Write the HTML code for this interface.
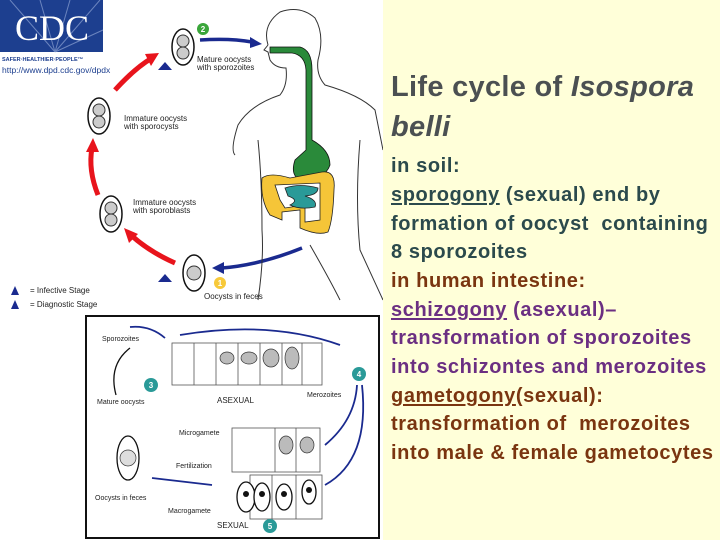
<!DOCTYPE html>
<html><head><meta charset="utf-8"><style>
html,body{margin:0;padding:0;width:720px;height:540px;overflow:hidden;background:#fff}
#L{position:absolute;left:0;top:0;width:383px;height:540px;background:#fff}
#R{position:absolute;left:383px;top:0;width:337px;height:540px;background:#ffffd9}
.t{position:absolute;left:8px;font-family:"Liberation Sans",sans-serif;font-weight:bold;white-space:nowrap}
.h{font-size:29px;color:#4b5052;letter-spacing:0.3px}
.b{font-size:20px;letter-spacing:0.6px}
.g{color:#2b4a4c}.r{color:#7a3510}.p{color:#6b2f82}
u{text-underline-offset:2px}
</style></head><body>
<div id="L">
<svg width="383" height="540" viewBox="0 0 383 540" font-family="Liberation Sans,sans-serif">
<rect x="0" y="0" width="103" height="52" fill="#1d3f8f"/>
<g stroke="#9fb3de" stroke-width="1" opacity="0.6"><line x1="55" y1="52" x2="10" y2="0"/><line x1="55" y1="52" x2="40" y2="0"/><line x1="55" y1="52" x2="70" y2="0"/><line x1="55" y1="52" x2="100" y2="0"/><line x1="55" y1="52" x2="103" y2="30"/></g>
<text x="52" y="40" text-anchor="middle" font-family="Liberation Serif,serif" font-size="36" fill="#fff">CDC</text>
<text x="2" y="61" font-size="5.5" font-weight="bold" fill="#1d3f8f">SAFER·HEALTHIER·PEOPLE™</text>
<text x="2" y="73" font-size="8.5" fill="#1d3f8f">http://www.dpd.cdc.gov/dpdx</text>
<g fill="none" stroke="#e8141c" stroke-width="5">
<path d="M115 90 Q135 68 152 58"/><path d="M98 195 Q88 170 92 148"/><path d="M175 263 Q150 252 132 236"/>
</g>
<g fill="#e8141c"><polygon points="159,53 145,54 151,66"/><polygon points="93,138 86,152 99,152"/><polygon points="124,228 129,243 138,234"/></g>
<g fill="none" stroke="#1a2a8f" stroke-width="3.5"><path d="M200 40 Q230 38 252 42"/><path d="M302 248 Q260 265 222 268"/></g>
<g fill="#1a2a8f"><polygon points="262,44 250,37 250,48"/><polygon points="212,268 224,262 224,274"/></g>
<g fill="#fff" stroke="#111" stroke-width="1.5">
<ellipse cx="183" cy="47" rx="11" ry="18"/><ellipse cx="99" cy="116" rx="11" ry="18"/><ellipse cx="111" cy="214" rx="11" ry="18"/><ellipse cx="194" cy="273" rx="11" ry="18"/>
</g>
<g fill="#ccc" stroke="#333" stroke-width="1"><circle cx="183" cy="41" r="6"/><circle cx="183" cy="53" r="6"/><circle cx="99" cy="110" r="6"/><circle cx="99" cy="122" r="6"/><circle cx="111" cy="208" r="6"/><circle cx="111" cy="220" r="6"/><circle cx="194" cy="273" r="7"/></g>
<circle cx="203" cy="29" r="6" fill="#3aa63a"/><text x="203" y="32" font-size="8" fill="#fff" text-anchor="middle" font-weight="bold">2</text>
<circle cx="220" cy="283" r="6" fill="#f7c93a"/><text x="220" y="286" font-size="8" fill="#fff" text-anchor="middle" font-weight="bold">1</text>
<polygon points="165,70 158,62 172,62" fill="#1a2a8f" transform="rotate(180 165 66)"/>
<polygon points="165,282 158,274 172,274" fill="#1a2a8f" transform="rotate(180 165 278)"/>
<g font-size="8" fill="#222">
<text x="197" y="62">Mature oocysts</text><text x="197" y="70">with sporozoites</text>
<text x="124" y="121">Immature oocysts</text><text x="124" y="129">with sporocysts</text>
<text x="133" y="205">Immature oocysts</text><text x="133" y="213">with sporoblasts</text>
<text x="204" y="299">Oocysts in feces</text>
<text x="30" y="293">= Infective Stage</text><text x="30" y="307">= Diagnostic Stage</text>
</g>
<polygon points="13,295 5,295 9,286" fill="#1a2a8f" transform="translate(6 0)"/>
<polygon points="13,309 5,309 9,300" fill="#1a2a8f" transform="translate(6 0)"/>
<g fill="none" stroke="#333" stroke-width="1">
<path d="M268 45 Q262 25 280 12 Q300 5 315 18 Q325 35 318 60 Q316 75 325 85 Q360 95 375 110 L383 150"/>
<path d="M268 45 L264 50 L268 52 L270 60 Q275 68 286 68 Q288 85 280 95 Q250 105 238 125 Q230 150 235 155"/>
<path d="M258 140 Q262 180 262 230 Q264 260 258 300"/><path d="M360 140 Q355 200 360 250 L383 300"/>
<path d="M310 245 Q330 280 340 300"/>
</g>
<path d="M270 47 L300 47 Q312 50 312 70 L312 140 Q330 150 330 165 Q325 180 300 180 Q290 175 295 160 L306 150 L306 70 Q305 55 292 53 L270 53 Z" fill="#2a8a3a" stroke="#111" stroke-width="0.8"/>
<path d="M262 178 Q270 172 290 178 L322 172 Q336 170 334 190 Q333 220 328 232 Q318 236 300 228 L300 210 L282 212 L282 220 L270 215 Q260 200 262 178Z M275 185 L320 183 L320 220 L305 222 L305 205 L285 208 L280 200Z" fill="#f5c538" fill-rule="evenodd" stroke="#222" stroke-width="0.8"/>
<path d="M285 188 Q300 183 318 188 Q318 195 305 196 Q318 200 315 207 Q300 210 290 205 Q300 200 288 196Z" fill="#2a9a98" stroke="#222" stroke-width="0.8"/>
<rect x="86" y="316" width="293" height="222" fill="#fff" stroke="#111" stroke-width="2"/>
<g fill="#fff" stroke="#555" stroke-width="0.8">
<rect x="172" y="343" width="150" height="42"/><rect x="232" y="428" width="88" height="44"/><rect x="250" y="475" width="72" height="44"/>
</g>
<g stroke="#555" stroke-width="0.8"><line x1="194" y1="343" x2="194" y2="385"/><line x1="216" y1="343" x2="216" y2="385"/><line x1="238" y1="343" x2="238" y2="385"/><line x1="260" y1="343" x2="260" y2="385"/><line x1="282" y1="343" x2="282" y2="385"/><line x1="302" y1="343" x2="302" y2="385"/><line x1="275" y1="428" x2="275" y2="472"/><line x1="296" y1="428" x2="296" y2="472"/><line x1="272" y1="475" x2="272" y2="519"/><line x1="296" y1="475" x2="296" y2="519"/></g>
<g fill="#bbb" stroke="#333" stroke-width="0.7"><ellipse cx="227" cy="358" rx="7" ry="6"/><ellipse cx="249" cy="358" rx="8" ry="6"/><ellipse cx="271" cy="358" rx="8" ry="9"/><ellipse cx="292" cy="358" rx="7" ry="11"/><ellipse cx="286" cy="445" rx="7" ry="9"/><ellipse cx="307" cy="445" rx="7" ry="8"/></g>
<g fill="#fff" stroke="#111" stroke-width="1.3"><ellipse cx="246" cy="497" rx="9" ry="15"/><ellipse cx="262" cy="497" rx="8" ry="14"/><ellipse cx="284" cy="497" rx="8" ry="13"/><ellipse cx="309" cy="492" rx="7" ry="12"/>
<ellipse cx="128" cy="458" rx="11" ry="22"/><path d="M130 348 Q108 365 116 395"/></g>
<g fill="#111"><circle cx="246" cy="494" r="3"/><circle cx="262" cy="494" r="3"/><circle cx="284" cy="494" r="3"/><circle cx="309" cy="490" r="3"/></g>
<circle cx="128" cy="458" r="8" fill="#ddd" stroke="#333" stroke-width="0.7"/>
<g fill="none" stroke="#1a2a8f" stroke-width="1.8"><path d="M340 345 Q270 320 180 335"/><path d="M130 327 Q150 325 165 338"/><path d="M357 385 Q355 420 325 445"/><path d="M362 385 Q370 460 325 485"/><path d="M212 485 L152 478"/></g>
<circle cx="359" cy="374" r="7" fill="#2a9a98"/><text x="359" y="377" font-size="8" fill="#fff" text-anchor="middle" font-weight="bold">4</text>
<circle cx="151" cy="385" r="7" fill="#2a9a98"/><text x="151" y="388" font-size="8" fill="#fff" text-anchor="middle" font-weight="bold">3</text>
<circle cx="270" cy="526" r="7" fill="#2a9a98"/><text x="270" y="529" font-size="8" fill="#fff" text-anchor="middle" font-weight="bold">5</text>
<g font-size="7" fill="#222">
<text x="102" y="341">Sporozoites</text><text x="97" y="404">Mature oocysts</text><text x="217" y="403" font-size="8">ASEXUAL</text><text x="307" y="397">Merozoites</text>
<text x="179" y="435">Microgamete</text><text x="176" y="468">Fertilization</text><text x="95" y="500">Oocysts in feces</text><text x="168" y="513">Macrogamete</text><text x="217" y="528" font-size="8">SEXUAL</text>
</g>
</svg>
</div>
<div id="R">
<div class="t h" style="top:71px">Life cycle of <i>Isospora</i></div>
<div class="t h" style="top:111px"><i>belli</i></div>
<div class="t b g" style="top:155px">in soil:</div>
<div class="t b g" style="top:184px"><u>sporogony</u> (sexual) end by</div>
<div class="t b g" style="top:213px">formation of oocyst&nbsp; containing</div>
<div class="t b g" style="top:241px">8 sporozoites</div>
<div class="t b r" style="top:270px">in human intestine:</div>
<div class="t b p" style="top:299px"><u>schizogony</u> (asexual)–</div>
<div class="t b p" style="top:327px">transformation of sporozoites</div>
<div class="t b p" style="top:356px">into schizontes and merozoites</div>
<div class="t b r" style="top:385px"><u>gametogony</u>(sexual):</div>
<div class="t b r" style="top:413px">transformation of&nbsp; merozoites</div>
<div class="t b r" style="top:442px">into male &amp; female gametocytes</div>
</div>
</body></html>
